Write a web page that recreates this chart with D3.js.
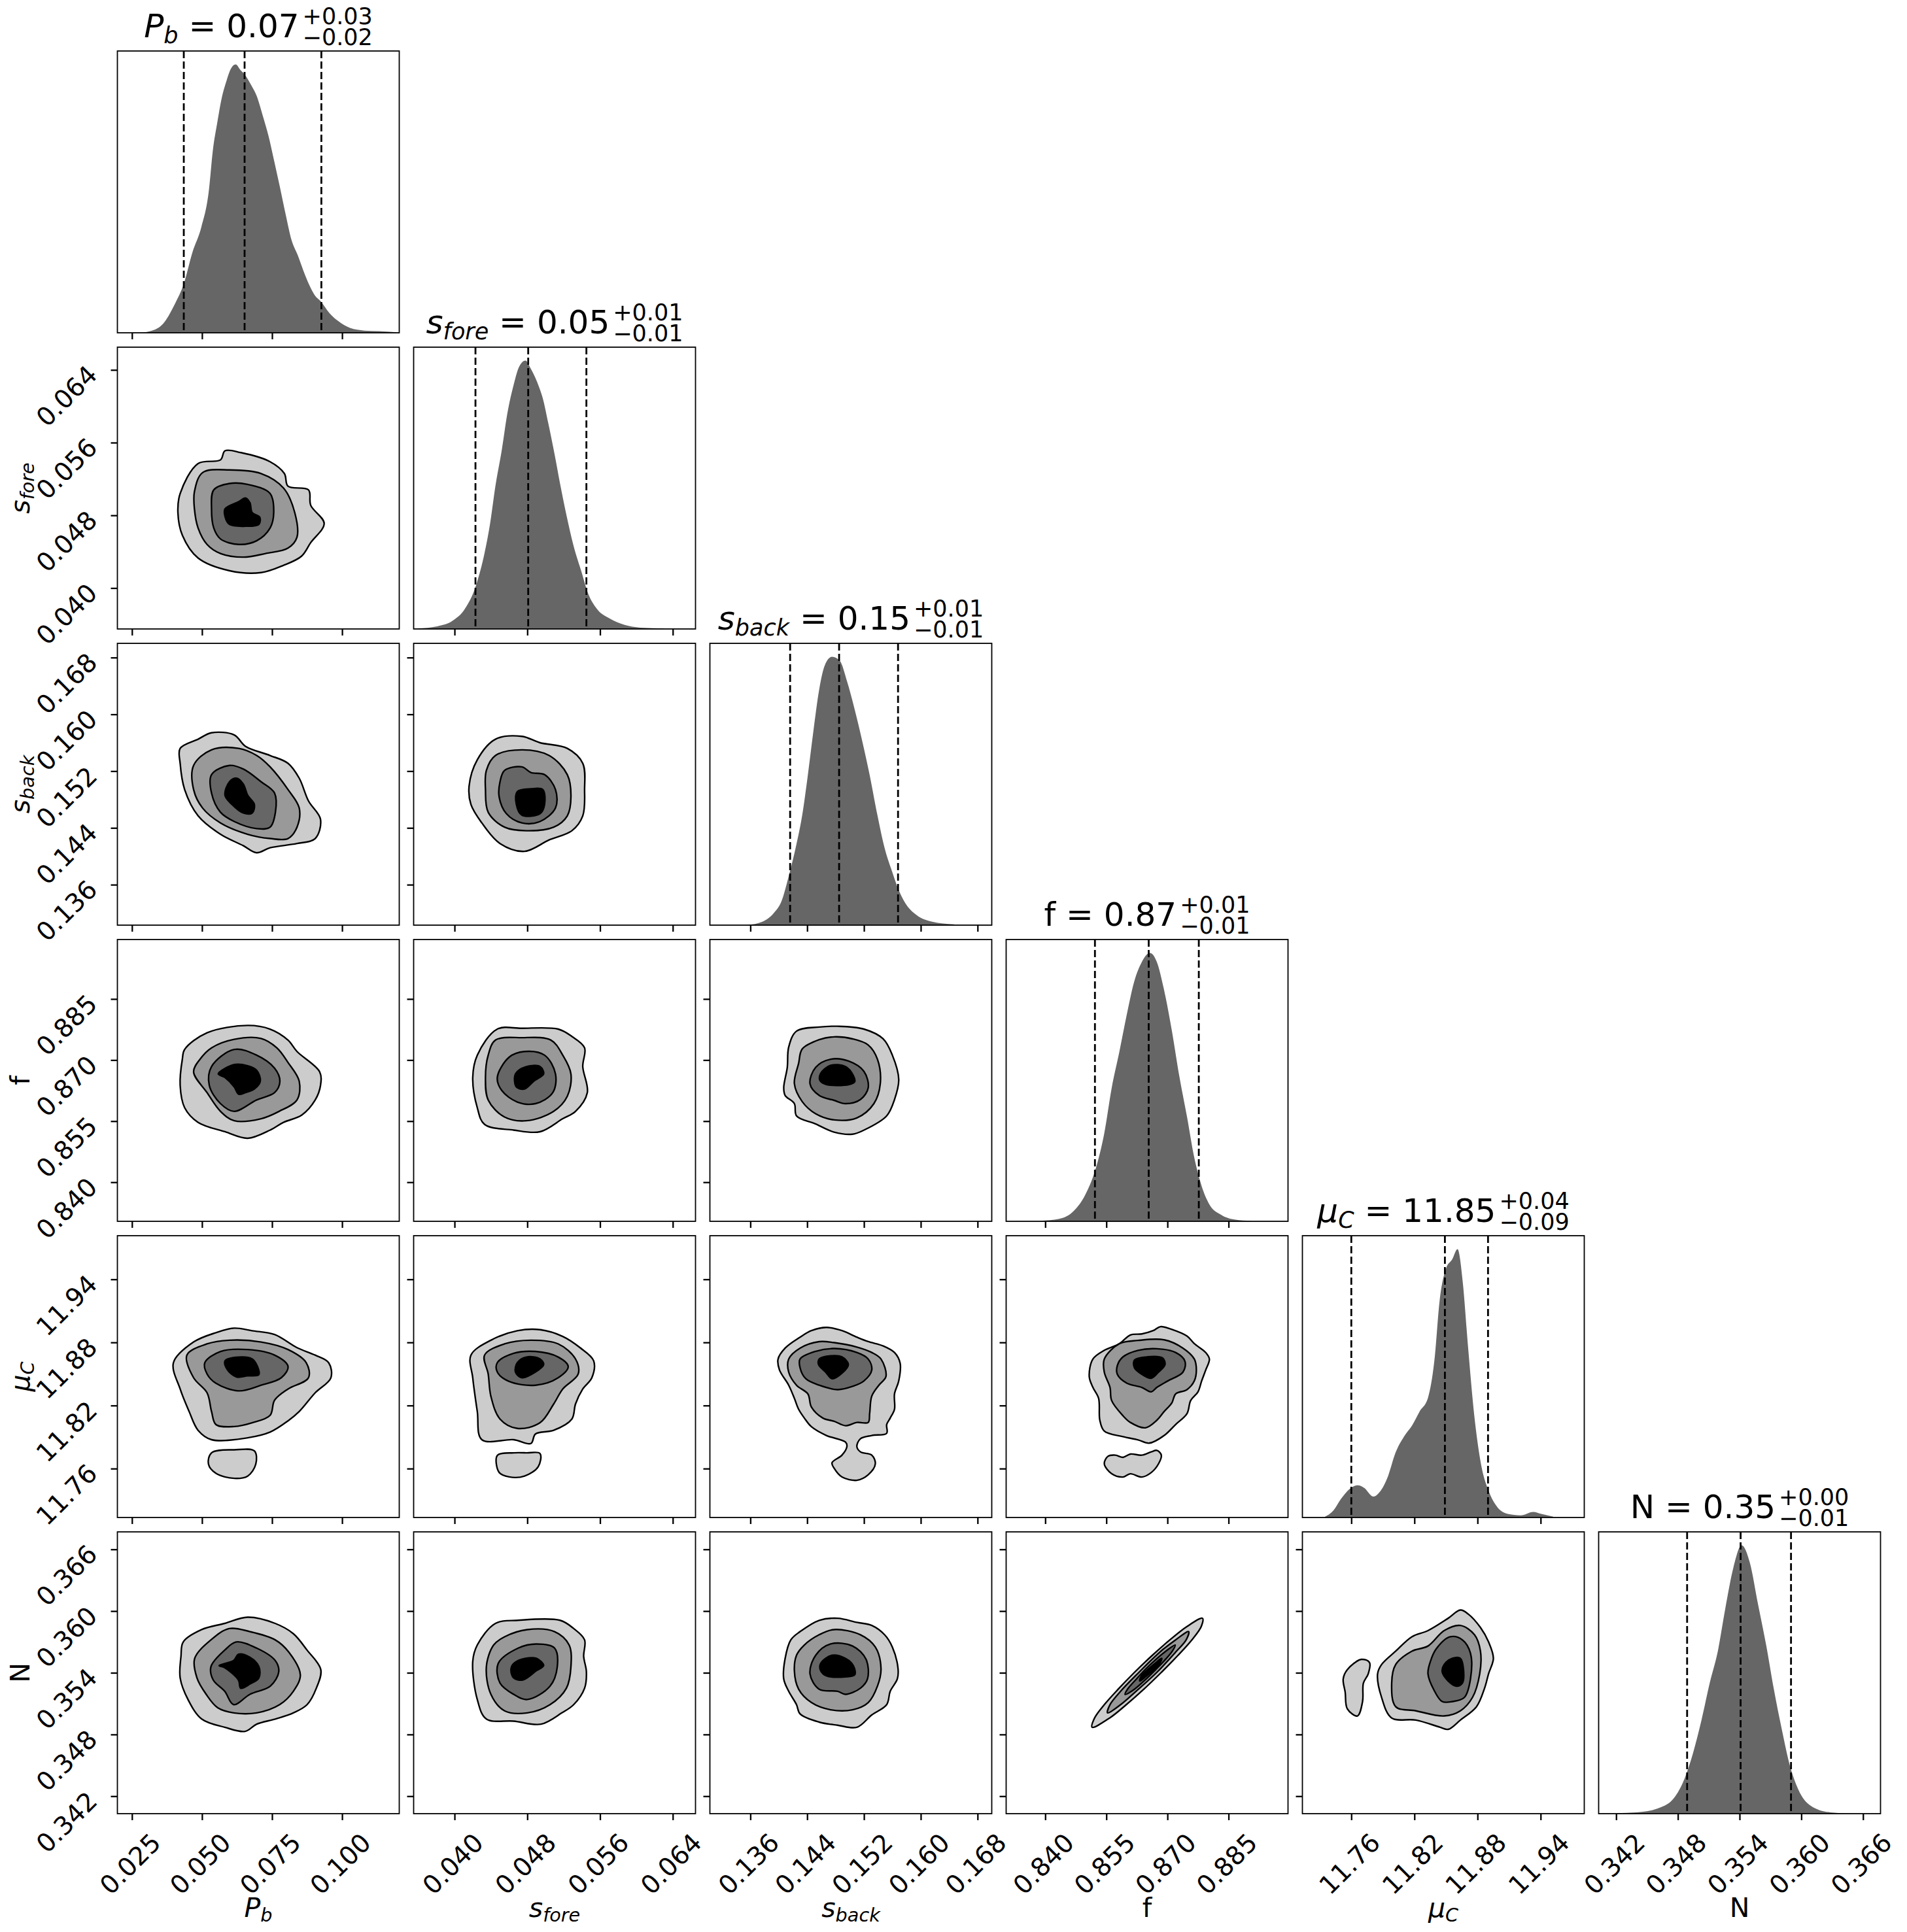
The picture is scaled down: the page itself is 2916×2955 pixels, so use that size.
<!DOCTYPE html>
<html>
<head>
<meta charset="utf-8">
<script src="https://cdn.jsdelivr.net/npm/d3@7"></script>
<style>
  body { margin: 0; background: #fff; }
  svg { display: block; }
  text { font-family: "DejaVu Sans", sans-serif; fill: #000; }
</style>
</head>
<body>
<div id="vis-container"></div>
<script>
// ---- parameters: label pieces [text, italic, subscript]
const paramLabels = [
  [["P",1,0],["b",1,1]],
  [["s",1,0],["fore",1,1]],
  [["s",1,0],["back",1,1]],
  [["f",0,0]],
  [["μ",1,0],["C",1,1]],
  [["N",0,0]]
];
const paramRanges = [[0.0198,0.1204],[0.0355,0.0665],[0.1303,0.1700],[0.8304,0.8996],[11.7135,11.9815],[0.3403,0.3677]];
const paramTicks = [
  [0.025,0.050,0.075,0.100],
  [0.040,0.048,0.056,0.064],
  [0.136,0.144,0.152,0.160,0.168],
  [0.840,0.855,0.870,0.885],
  [11.76,11.82,11.88,11.94],
  [0.342,0.348,0.354,0.360,0.366]
];
const tickFormats = [".3f",".3f",".3f",".3f",".2f",".3f"];
const quantiles = [[0.0435,0.0652,0.0926],[0.0423,0.0481,0.0545],[0.1416,0.1485,0.1568],[0.8522,0.8654,0.8777],[11.760,11.849,11.890],[0.3489,0.3541,0.3590]];
const titleValues = ["0.07","0.05","0.15","0.87","11.85","0.35"];
const titlePlus = ["+0.03","+0.01","+0.01","+0.01","+0.04","+0.00"];
const titleMinus = ["\u22120.02","\u22120.01","\u22120.01","\u22120.01","\u22120.09","\u22120.01"];

// ---- 1D marginals [value, relative density]
const histPb = [[0.0279,0],[0.0321,0.008],[0.0362,0.035],[0.0404,0.109],[0.0435,0.182],[0.0466,0.300],[0.0498,0.395],[0.0524,0.526],[0.0539,0.682],[0.0555,0.786],[0.0570,0.873],[0.0586,0.934],[0.0602,0.982],[0.0620,1.0],[0.0638,0.978],[0.0654,0.960],[0.0674,0.926],[0.0695,0.883],[0.0716,0.812],[0.0737,0.735],[0.0758,0.638],[0.0778,0.543],[0.0799,0.439],[0.0820,0.344],[0.0841,0.291],[0.0862,0.231],[0.0883,0.178],[0.0903,0.139],[0.0924,0.117],[0.0955,0.073],[0.0987,0.043],[0.1028,0.018],[0.1080,0.008],[0.1132,0.006],[0.1195,0.002]];
const histSfore = [[0.0360,0.002],[0.0381,0.010],[0.0398,0.031],[0.0411,0.073],[0.0424,0.166],[0.0433,0.283],[0.0439,0.391],[0.0445,0.534],[0.0452,0.668],[0.0458,0.802],[0.0465,0.910],[0.0471,0.977],[0.0478,1.0],[0.0484,0.969],[0.0493,0.901],[0.0497,0.860],[0.0503,0.768],[0.0510,0.651],[0.0516,0.542],[0.0523,0.425],[0.0531,0.308],[0.0540,0.208],[0.0546,0.140],[0.0557,0.073],[0.0570,0.040],[0.0587,0.015],[0.0604,0.005],[0.0630,0.002]];
const histSback = [[0.1356,0.001],[0.1377,0.013],[0.1393,0.045],[0.1404,0.090],[0.1414,0.182],[0.1425,0.303],[0.1433,0.409],[0.1441,0.560],[0.1449,0.728],[0.1457,0.879],[0.1465,0.969],[0.1475,1.0],[0.1486,0.985],[0.1496,0.910],[0.1507,0.803],[0.1518,0.681],[0.1528,0.560],[0.1539,0.409],[0.1549,0.288],[0.1560,0.197],[0.1568,0.137],[0.1578,0.083],[0.1594,0.038],[0.1616,0.013],[0.1647,0.003]];
const histF = [[0.8388,0.002],[0.8434,0.009],[0.8471,0.040],[0.8499,0.101],[0.8526,0.207],[0.8545,0.329],[0.8563,0.496],[0.8582,0.632],[0.8600,0.769],[0.8618,0.891],[0.8637,0.966],[0.8657,1.0],[0.8674,0.966],[0.8692,0.860],[0.8711,0.709],[0.8729,0.542],[0.8748,0.390],[0.8766,0.237],[0.8784,0.131],[0.8803,0.063],[0.8831,0.025],[0.8867,0.006],[0.8904,0.002]];
const histMu = [[11.735,0.003],[11.743,0.026],[11.750,0.068],[11.760,0.111],[11.766,0.120],[11.772,0.111],[11.781,0.078],[11.787,0.095],[11.795,0.155],[11.802,0.241],[11.810,0.301],[11.818,0.344],[11.825,0.395],[11.833,0.447],[11.839,0.585],[11.844,0.808],[11.850,0.927],[11.856,0.962],[11.861,1.0],[11.866,0.876],[11.871,0.636],[11.877,0.377],[11.883,0.206],[11.891,0.095],[11.898,0.043],[11.908,0.014],[11.921,0.008],[11.933,0.021],[11.940,0.014],[11.952,0.003]];
const histN = [[0.3421,0.002],[0.3440,0.005],[0.3460,0.019],[0.3476,0.057],[0.3487,0.135],[0.3495,0.229],[0.3503,0.349],[0.3511,0.487],[0.3519,0.608],[0.3526,0.762],[0.3534,0.917],[0.3542,1.0],[0.3550,0.935],[0.3558,0.779],[0.3566,0.625],[0.3573,0.470],[0.3581,0.315],[0.3589,0.178],[0.3597,0.091],[0.3609,0.030],[0.3628,0.005],[0.3652,0.0]];
const histograms = [histPb, histSfore, histSback, histF, histMu, histN];

// ---- 2D contours: 4 levels (outer -> core), each a list of polygons in data units
const contPbSfore = [
  [[[0.0582,0.0551],[0.0639,0.0549],[0.0743,0.0539],[0.0794,0.0526],[0.0807,0.0512],[0.0880,0.0508],[0.0888,0.0491],[0.0936,0.0471],[0.0888,0.0450],[0.0855,0.0435],[0.0791,0.0425],[0.0711,0.0417],[0.0599,0.0419],[0.0486,0.0433],[0.0430,0.0458],[0.0414,0.0483],[0.0422,0.0504],[0.0486,0.0537],[0.0566,0.0541]]],
  [[[0.0502,0.0527],[0.0598,0.0530],[0.0711,0.0526],[0.0791,0.0510],[0.0831,0.0483],[0.0839,0.0456],[0.0807,0.0444],[0.0727,0.0438],[0.0647,0.0434],[0.0566,0.0438],[0.0518,0.0448],[0.0486,0.0466],[0.0473,0.0487],[0.0473,0.0506]]],
  [[[0.0542,0.0508],[0.0598,0.0515],[0.0663,0.0514],[0.0743,0.0504],[0.0756,0.0483],[0.0743,0.0466],[0.0695,0.0452],[0.0631,0.0448],[0.0566,0.0454],[0.0542,0.0466],[0.0534,0.0487]]],
  [[[0.0582,0.0487],[0.0631,0.0495],[0.0655,0.0499],[0.0671,0.0494],[0.0679,0.0483],[0.0706,0.0478],[0.0703,0.0470],[0.0655,0.0468],[0.0598,0.0470],[0.0582,0.0479]]]
];
const contPbSback = [
  [[[0.0534,0.1574],[0.0615,0.1571],[0.0655,0.1555],[0.0743,0.1542],[0.0807,0.1531],[0.0847,0.1510],[0.0880,0.1478],[0.0923,0.1452],[0.0904,0.1425],[0.0839,0.1418],[0.0743,0.1412],[0.0695,0.1405],[0.0647,0.1415],[0.0566,0.1431],[0.0486,0.1457],[0.0438,0.1494],[0.0422,0.1531],[0.0422,0.1552],[0.0486,0.1565]]],
  [[[0.0470,0.1528],[0.0534,0.1550],[0.0631,0.1552],[0.0695,0.1542],[0.0743,0.1526],[0.0807,0.1494],[0.0847,0.1468],[0.0839,0.1441],[0.0807,0.1425],[0.0743,0.1425],[0.0663,0.1431],[0.0566,0.1447],[0.0502,0.1468],[0.0470,0.1494]]],
  [[[0.0534,0.1515],[0.0598,0.1528],[0.0647,0.1523],[0.0711,0.1505],[0.0759,0.1489],[0.0762,0.1462],[0.0743,0.1441],[0.0695,0.1439],[0.0615,0.1449],[0.0566,0.1462],[0.0534,0.1489]]],
  [[[0.0598,0.1505],[0.0623,0.1510],[0.0647,0.1502],[0.0663,0.1486],[0.0687,0.1473],[0.0679,0.1461],[0.0647,0.1461],[0.0607,0.1473],[0.0582,0.1486]]]
];
const contSforeSback = [
  [[[0.0445,0.1565],[0.0474,0.1569],[0.0494,0.1560],[0.0524,0.1552],[0.0541,0.1531],[0.0543,0.1494],[0.0541,0.1457],[0.0529,0.1436],[0.0504,0.1423],[0.0477,0.1407],[0.0450,0.1418],[0.0430,0.1447],[0.0418,0.1473],[0.0416,0.1499],[0.0425,0.1536]]],
  [[[0.0445,0.1542],[0.0474,0.1550],[0.0504,0.1542],[0.0524,0.1515],[0.0528,0.1484],[0.0524,0.1457],[0.0509,0.1441],[0.0479,0.1436],[0.0455,0.1441],[0.0437,0.1462],[0.0434,0.1494],[0.0435,0.1521]]],
  [[[0.0455,0.1521],[0.0474,0.1526],[0.0484,0.1518],[0.0499,0.1515],[0.0511,0.1494],[0.0511,0.1468],[0.0494,0.1449],[0.0474,0.1447],[0.0457,0.1460],[0.0449,0.1484],[0.0450,0.1505]]],
  [[[0.0469,0.1491],[0.0484,0.1495],[0.0497,0.1494],[0.0499,0.1473],[0.0494,0.1460],[0.0474,0.1458],[0.0468,0.1473]]]
];
const contPbF = [
  [[[0.0438,0.8726],[0.0518,0.8767],[0.0663,0.8785],[0.0743,0.8776],[0.0807,0.8749],[0.0839,0.8721],[0.0920,0.8671],[0.0923,0.8638],[0.0904,0.8602],[0.0856,0.8565],[0.0791,0.8547],[0.0743,0.8528],[0.0663,0.8508],[0.0582,0.8524],[0.0486,0.8547],[0.0438,0.8583],[0.0422,0.8638],[0.0430,0.8703]]],
  [[[0.0534,0.8730],[0.0615,0.8751],[0.0711,0.8753],[0.0767,0.8730],[0.0807,0.8694],[0.0847,0.8648],[0.0839,0.8602],[0.0775,0.8574],[0.0711,0.8556],[0.0615,0.8551],[0.0566,0.8574],[0.0518,0.8620],[0.0470,0.8671],[0.0494,0.8703]]],
  [[[0.0534,0.8684],[0.0615,0.8726],[0.0695,0.8712],[0.0759,0.8680],[0.0778,0.8648],[0.0759,0.8620],[0.0695,0.8602],[0.0615,0.8574],[0.0566,0.8593],[0.0526,0.8638]]],
  [[[0.0558,0.8666],[0.0615,0.8689],[0.0663,0.8686],[0.0695,0.8675],[0.0708,0.8648],[0.0687,0.8629],[0.0655,0.8620],[0.0631,0.8616],[0.0615,0.8634],[0.0582,0.8657]]]
];
const contSforeF = [
  [[[0.0447,0.8776],[0.0474,0.8778],[0.0514,0.8776],[0.0529,0.8758],[0.0543,0.8730],[0.0541,0.8684],[0.0546,0.8620],[0.0533,0.8574],[0.0519,0.8556],[0.0494,0.8524],[0.0465,0.8528],[0.0433,0.8542],[0.0425,0.8583],[0.0420,0.8657],[0.0425,0.8712]]],
  [[[0.0445,0.8749],[0.0474,0.8755],[0.0506,0.8749],[0.0519,0.8712],[0.0528,0.8666],[0.0524,0.8611],[0.0509,0.8574],[0.0479,0.8551],[0.0455,0.8560],[0.0437,0.8602],[0.0434,0.8657],[0.0437,0.8712]]],
  [[[0.0460,0.8707],[0.0477,0.8721],[0.0499,0.8712],[0.0511,0.8666],[0.0508,0.8620],[0.0489,0.8593],[0.0469,0.8597],[0.0452,0.8625],[0.0447,0.8657]]],
  [[[0.0467,0.8666],[0.0479,0.8684],[0.0494,0.8684],[0.0498,0.8666],[0.0487,0.8648],[0.0477,0.8629],[0.0468,0.8634]]]
];
const contSbackF = [
  [[[0.1425,0.8771],[0.1457,0.8781],[0.1483,0.8783],[0.1520,0.8776],[0.1547,0.8752],[0.1560,0.8712],[0.1569,0.8652],[0.1563,0.8603],[0.1552,0.8563],[0.1520,0.8528],[0.1504,0.8518],[0.1478,0.8523],[0.1452,0.8543],[0.1425,0.8563],[0.1422,0.8593],[0.1409,0.8613],[0.1407,0.8632],[0.1412,0.8682],[0.1414,0.8732]]],
  [[[0.1433,0.8727],[0.1457,0.8750],[0.1478,0.8757],[0.1504,0.8752],[0.1526,0.8737],[0.1539,0.8702],[0.1543,0.8642],[0.1534,0.8593],[0.1510,0.8558],[0.1478,0.8553],[0.1452,0.8568],[0.1433,0.8598],[0.1422,0.8642],[0.1428,0.8692]]],
  [[[0.1452,0.8682],[0.1473,0.8702],[0.1499,0.8697],[0.1520,0.8672],[0.1526,0.8632],[0.1515,0.8603],[0.1494,0.8593],[0.1478,0.8601],[0.1457,0.8613],[0.1444,0.8642]]],
  [[[0.1459,0.8667],[0.1473,0.8687],[0.1494,0.8684],[0.1505,0.8662],[0.1507,0.8647],[0.1499,0.8640],[0.1467,0.8640],[0.1458,0.8650]]]
];
const contPbMu = [
  [[[0.0398,11.8607],[0.0470,11.8804],[0.0550,11.8893],[0.0615,11.8936],[0.0679,11.8911],[0.0759,11.8875],[0.0839,11.8750],[0.0904,11.8679],[0.0952,11.8607],[0.0960,11.8464],[0.0904,11.8321],[0.0847,11.8143],[0.0807,11.8054],[0.0743,11.7947],[0.0663,11.7893],[0.0534,11.7875],[0.0486,11.7964],[0.0454,11.8143],[0.0422,11.8357]],
   [[0.0534,11.7750],[0.0615,11.7779],[0.0687,11.7768],[0.0692,11.7643],[0.0663,11.7529],[0.0615,11.7507],[0.0550,11.7554],[0.0523,11.7643]]],
  [[[0.0446,11.8679],[0.0518,11.8786],[0.0598,11.8821],[0.0711,11.8804],[0.0807,11.8732],[0.0872,11.8607],[0.0880,11.8464],[0.0807,11.8357],[0.0759,11.8250],[0.0743,11.8107],[0.0679,11.8036],[0.0615,11.8000],[0.0550,11.8018],[0.0534,11.8143],[0.0518,11.8321],[0.0470,11.8464]]],
  [[[0.0510,11.8607],[0.0566,11.8714],[0.0663,11.8732],[0.0759,11.8679],[0.0807,11.8571],[0.0783,11.8464],[0.0711,11.8393],[0.0631,11.8339],[0.0550,11.8411],[0.0518,11.8500]]],
  [[[0.0582,11.8625],[0.0631,11.8661],[0.0679,11.8643],[0.0698,11.8571],[0.0703,11.8493],[0.0663,11.8482],[0.0623,11.8471],[0.0590,11.8543]]]
];
const contSforeMu = [
  [[[0.0418,11.8679],[0.0440,11.8821],[0.0469,11.8911],[0.0494,11.8921],[0.0519,11.8857],[0.0538,11.8750],[0.0553,11.8625],[0.0551,11.8464],[0.0541,11.8357],[0.0533,11.8214],[0.0529,11.8071],[0.0509,11.7964],[0.0489,11.7929],[0.0484,11.7839],[0.0465,11.7875],[0.0430,11.7875],[0.0425,11.8143],[0.0420,11.8464]],
   [[0.0447,11.7725],[0.0465,11.7750],[0.0479,11.7750],[0.0494,11.7743],[0.0492,11.7618],[0.0477,11.7529],[0.0460,11.7521],[0.0449,11.7564]]],
  [[[0.0433,11.8679],[0.0455,11.8786],[0.0484,11.8821],[0.0514,11.8786],[0.0533,11.8643],[0.0536,11.8500],[0.0519,11.8357],[0.0509,11.8214],[0.0494,11.8036],[0.0469,11.7982],[0.0450,11.8071],[0.0440,11.8286],[0.0437,11.8500]]],
  [[[0.0447,11.8607],[0.0465,11.8696],[0.0489,11.8714],[0.0514,11.8661],[0.0525,11.8571],[0.0514,11.8464],[0.0489,11.8393],[0.0460,11.8429],[0.0447,11.8518]]],
  [[[0.0469,11.8607],[0.0479,11.8661],[0.0494,11.8643],[0.0498,11.8589],[0.0489,11.8518],[0.0474,11.8464],[0.0467,11.8518]]]
];
const contSbackMu = [
  [[[0.1467,11.8943],[0.1489,11.8912],[0.1510,11.8850],[0.1526,11.8808],[0.1547,11.8767],[0.1563,11.8704],[0.1571,11.8601],[0.1569,11.8434],[0.1563,11.8310],[0.1563,11.8164],[0.1557,11.8081],[0.1552,11.8019],[0.1552,11.7936],[0.1531,11.7915],[0.1515,11.7884],[0.1510,11.7811],[0.1515,11.7759],[0.1531,11.7728],[0.1536,11.7645],[0.1526,11.7541],[0.1510,11.7489],[0.1489,11.7520],[0.1478,11.7603],[0.1475,11.7655],[0.1489,11.7728],[0.1496,11.7811],[0.1494,11.7852],[0.1467,11.7915],[0.1446,11.7998],[0.1436,11.8081],[0.1428,11.8164],[0.1422,11.8268],[0.1414,11.8393],[0.1401,11.8538],[0.1399,11.8642],[0.1409,11.8746],[0.1430,11.8850],[0.1446,11.8912]]],
  [[[0.1414,11.8642],[0.1430,11.8746],[0.1457,11.8808],[0.1478,11.8798],[0.1510,11.8756],[0.1531,11.8704],[0.1544,11.8642],[0.1551,11.8476],[0.1541,11.8393],[0.1531,11.8289],[0.1528,11.8123],[0.1526,11.8039],[0.1510,11.8039],[0.1494,11.8008],[0.1478,11.8050],[0.1462,11.8081],[0.1446,11.8185],[0.1441,11.8310],[0.1425,11.8393],[0.1414,11.8517]]],
  [[[0.1430,11.8642],[0.1452,11.8715],[0.1478,11.8742],[0.1510,11.8704],[0.1526,11.8642],[0.1531,11.8538],[0.1520,11.8434],[0.1504,11.8382],[0.1483,11.8351],[0.1457,11.8393],[0.1438,11.8455],[0.1430,11.8559]]],
  [[[0.1457,11.8642],[0.1473,11.8673],[0.1489,11.8663],[0.1498,11.8590],[0.1489,11.8507],[0.1475,11.8455],[0.1466,11.8517],[0.1456,11.8590]]]
];
const contFMu = [
  [[[0.8665,11.8912],[0.8683,11.8950],[0.8711,11.8923],[0.8748,11.8860],[0.8766,11.8788],[0.8794,11.8704],[0.8803,11.8642],[0.8794,11.8538],[0.8784,11.8434],[0.8775,11.8330],[0.8757,11.8247],[0.8748,11.8123],[0.8720,11.8019],[0.8692,11.7915],[0.8655,11.7842],[0.8628,11.7873],[0.8591,11.7904],[0.8545,11.7956],[0.8534,11.8060],[0.8531,11.8268],[0.8517,11.8372],[0.8508,11.8476],[0.8517,11.8642],[0.8545,11.8725],[0.8582,11.8788],[0.8609,11.8871],[0.8637,11.8881]],
   [[0.8554,11.7717],[0.8572,11.7728],[0.8591,11.7707],[0.8609,11.7738],[0.8637,11.7728],[0.8660,11.7759],[0.8674,11.7773],[0.8685,11.7728],[0.8678,11.7645],[0.8660,11.7562],[0.8637,11.7520],[0.8609,11.7551],[0.8591,11.7520],[0.8563,11.7551],[0.8545,11.7645]]],
  [[[0.8582,11.8788],[0.8628,11.8819],[0.8692,11.8825],[0.8738,11.8746],[0.8766,11.8642],[0.8771,11.8538],[0.8766,11.8434],[0.8748,11.8351],[0.8720,11.8310],[0.8711,11.8226],[0.8692,11.8143],[0.8674,11.8060],[0.8646,11.7988],[0.8609,11.8039],[0.8591,11.8102],[0.8563,11.8247],[0.8559,11.8372],[0.8545,11.8517],[0.8545,11.8642]]],
  [[[0.8591,11.8663],[0.8628,11.8725],[0.8674,11.8740],[0.8720,11.8704],[0.8743,11.8621],[0.8738,11.8517],[0.8701,11.8434],[0.8674,11.8372],[0.8660,11.8330],[0.8637,11.8372],[0.8600,11.8413],[0.8577,11.8497],[0.8577,11.8580]]],
  [[[0.8619,11.8632],[0.8651,11.8663],[0.8688,11.8652],[0.8694,11.8590],[0.8678,11.8517],[0.8660,11.8459],[0.8637,11.8497],[0.8619,11.8559]]]
];
const contPbN = [
  [[[0.0433,0.3570],[0.0499,0.3582],[0.0581,0.3588],[0.0663,0.3594],[0.0761,0.3588],[0.0826,0.3578],[0.0875,0.3562],[0.0924,0.3543],[0.0908,0.3525],[0.0875,0.3509],[0.0826,0.3501],[0.0761,0.3495],[0.0695,0.3490],[0.0654,0.3483],[0.0581,0.3487],[0.0499,0.3495],[0.0450,0.3514],[0.0422,0.3535],[0.0425,0.3556]]],
  [[[0.0474,0.3554],[0.0532,0.3572],[0.0597,0.3583],[0.0671,0.3580],[0.0761,0.3572],[0.0810,0.3560],[0.0851,0.3538],[0.0826,0.3522],[0.0777,0.3509],[0.0695,0.3501],[0.0613,0.3501],[0.0556,0.3506],[0.0515,0.3519],[0.0482,0.3535]]],
  [[[0.0532,0.3546],[0.0581,0.3562],[0.0622,0.3570],[0.0695,0.3564],[0.0761,0.3552],[0.0774,0.3541],[0.0744,0.3527],[0.0671,0.3519],[0.0613,0.3509],[0.0581,0.3522],[0.0540,0.3533]]],
  [[[0.0561,0.3547],[0.0613,0.3552],[0.0630,0.3558],[0.0671,0.3555],[0.0703,0.3546],[0.0703,0.3535],[0.0671,0.3529],[0.0638,0.3525],[0.0630,0.3533],[0.0581,0.3545]]]
];
const contSforeN = [
  [[[0.0445,0.3588],[0.0470,0.3591],[0.0516,0.3591],[0.0531,0.3583],[0.0543,0.3572],[0.0542,0.3556],[0.0545,0.3541],[0.0543,0.3525],[0.0531,0.3509],[0.0518,0.3501],[0.0495,0.3490],[0.0465,0.3493],[0.0435,0.3495],[0.0425,0.3514],[0.0420,0.3551],[0.0425,0.3567]]],
  [[[0.0455,0.3575],[0.0480,0.3582],[0.0510,0.3580],[0.0526,0.3567],[0.0528,0.3546],[0.0523,0.3525],[0.0505,0.3509],[0.0480,0.3501],[0.0455,0.3503],[0.0440,0.3519],[0.0435,0.3546],[0.0443,0.3567]]],
  [[[0.0470,0.3564],[0.0490,0.3568],[0.0510,0.3564],[0.0513,0.3546],[0.0505,0.3527],[0.0480,0.3514],[0.0465,0.3519],[0.0450,0.3530],[0.0448,0.3549]]],
  [[[0.0465,0.3549],[0.0478,0.3554],[0.0490,0.3554],[0.0498,0.3547],[0.0490,0.3542],[0.0475,0.3533],[0.0465,0.3535],[0.0462,0.3543]]]
];
const contSbackN = [
  [[[0.1430,0.3580],[0.1457,0.3591],[0.1483,0.3593],[0.1510,0.3589],[0.1531,0.3586],[0.1549,0.3577],[0.1560,0.3565],[0.1568,0.3544],[0.1567,0.3534],[0.1557,0.3522],[0.1552,0.3509],[0.1531,0.3499],[0.1510,0.3487],[0.1483,0.3489],[0.1457,0.3492],[0.1430,0.3500],[0.1425,0.3509],[0.1414,0.3522],[0.1407,0.3534],[0.1409,0.3554],[0.1417,0.3572]]],
  [[[0.1436,0.3567],[0.1457,0.3577],[0.1478,0.3582],[0.1515,0.3577],[0.1536,0.3565],[0.1544,0.3544],[0.1539,0.3527],[0.1526,0.3511],[0.1504,0.3504],[0.1473,0.3504],[0.1446,0.3511],[0.1428,0.3524],[0.1422,0.3542],[0.1425,0.3557]]],
  [[[0.1452,0.3557],[0.1473,0.3568],[0.1504,0.3566],[0.1523,0.3553],[0.1525,0.3534],[0.1515,0.3525],[0.1494,0.3519],[0.1483,0.3522],[0.1457,0.3524],[0.1444,0.3539]]],
  [[[0.1459,0.3549],[0.1475,0.3557],[0.1494,0.3554],[0.1505,0.3547],[0.1507,0.3538],[0.1494,0.3536],[0.1467,0.3537],[0.1459,0.3542]]]
];
const contFN = [
  [[[0.8515,0.3487],[0.8521,0.3496],[0.8545,0.3509],[0.8579,0.3524],[0.8618,0.3540],[0.8663,0.3557],[0.8706,0.3572],[0.8748,0.3585],[0.8786,0.3593],[0.8783,0.3585],[0.8760,0.3572],[0.8726,0.3557],[0.8684,0.3540],[0.8642,0.3524],[0.8599,0.3509],[0.8558,0.3496]]],
  [[[0.8553,0.3501],[0.8559,0.3509],[0.8585,0.3522],[0.8629,0.3540],[0.8681,0.3560],[0.8720,0.3572],[0.8752,0.3580],[0.8746,0.3572],[0.8720,0.3560],[0.8673,0.3540],[0.8623,0.3522],[0.8585,0.3509]]],
  [[[0.8596,0.3519],[0.8602,0.3524],[0.8624,0.3534],[0.8645,0.3543],[0.8669,0.3552],[0.8696,0.3561],[0.8719,0.3567],[0.8712,0.3561],[0.8693,0.3552],[0.8671,0.3543],[0.8648,0.3534],[0.8619,0.3524]]],
  [[[0.8632,0.3532],[0.8636,0.3537],[0.8651,0.3543],[0.8669,0.3549],[0.8686,0.3554],[0.8681,0.3549],[0.8667,0.3543],[0.8649,0.3537]]]
];
const contMuN = [
  [[[11.8022,0.3561],[11.8176,0.3575],[11.8329,0.3581],[11.8521,0.3593],[11.8637,0.3601],[11.8713,0.3597],[11.8828,0.3584],[11.8905,0.3570],[11.8951,0.3554],[11.8905,0.3539],[11.8867,0.3525],[11.8790,0.3507],[11.8637,0.3494],[11.8521,0.3485],[11.8445,0.3487],[11.8214,0.3494],[11.7984,0.3496],[11.7888,0.3516],[11.7850,0.3539],[11.7888,0.3548]],
   [[11.7562,0.3543],[11.7696,0.3553],[11.7773,0.3550],[11.7761,0.3539],[11.7715,0.3530],[11.7707,0.3512],[11.7658,0.3498],[11.7562,0.3505],[11.7542,0.3521],[11.7523,0.3534]]],
  [[[11.8022,0.3548],[11.8176,0.3561],[11.8329,0.3566],[11.8483,0.3581],[11.8637,0.3586],[11.8771,0.3577],[11.8828,0.3561],[11.8821,0.3539],[11.8752,0.3516],[11.8637,0.3503],[11.8483,0.3498],[11.8214,0.3503],[11.8022,0.3507],[11.7984,0.3530]]],
  [[[11.8349,0.3550],[11.8406,0.3563],[11.8541,0.3575],[11.8656,0.3572],[11.8733,0.3559],[11.8733,0.3534],[11.8675,0.3516],[11.8560,0.3512],[11.8464,0.3512],[11.8387,0.3523],[11.8329,0.3539]]],
  [[[11.8483,0.3548],[11.8560,0.3554],[11.8637,0.3554],[11.8667,0.3543],[11.8656,0.3530],[11.8598,0.3527],[11.8521,0.3532],[11.8464,0.3541]]]
];
const contourPanels = [
  {row:1,col:0,levels:contPbSfore},
  {row:2,col:0,levels:contPbSback},{row:2,col:1,levels:contSforeSback},
  {row:3,col:0,levels:contPbF},{row:3,col:1,levels:contSforeF},{row:3,col:2,levels:contSbackF},
  {row:4,col:0,levels:contPbMu},{row:4,col:1,levels:contSforeMu},{row:4,col:2,levels:contSbackMu},{row:4,col:3,levels:contFMu},
  {row:5,col:0,levels:contPbN},{row:5,col:1,levels:contSforeN},{row:5,col:2,levels:contSbackN},{row:5,col:3,levels:contFN},{row:5,col:4,levels:contMuN}
];
const contourFills = ["#cccccc","#999999","#666666","#000000"];

// ---- layout
const width = 2916, height = 2955;
const cell = 431, gap = 22, left0 = 179.5, top0 = 78;
const n = paramRanges.length;
const fontTick = 39, fontLabel = 41, fontTitle = 50;

const svg = d3.select("#vis-container").append("svg")
  .attr("width", width).attr("height", height)
  .attr("viewBox", [0, 0, width, height]);

const xS = paramRanges.map(r => d3.scaleLinear().domain(r).range([0, cell]));
const yS = paramRanges.map(r => d3.scaleLinear().domain(r).range([cell, 0]));
const hY = d3.scaleLinear().domain([0, 1.05]).range([cell, 0]);

const panelX = j => left0 + j * (cell + gap);
const panelY = i => top0 + i * (cell + gap);

// writes label pieces as tspans (math-like subscripts)
function addMath(parent, parts, size) {
  const t = parent.append("text").attr("font-size", size);
  let down = false;
  parts.forEach(p => {
    const ts = t.append("tspan").text(p[0]);
    if (p[1]) ts.attr("font-style", "italic");
    if (p[2]) {
      ts.attr("font-size", size * 0.7);
      if (!down) { ts.attr("dy", size * 0.18); down = true; }
    } else if (down) { ts.attr("dy", -size * 0.18); down = false; }
  });
  return t;
}

const panels = {};
for (let i = 0; i < n; i++) {
  for (let j = 0; j <= i; j++) {
    const g = svg.append("g").attr("transform", `translate(${panelX(j)},${panelY(i)})`);
    g.append("clipPath").attr("id", `clip-${i}-${j}`)
      .append("rect").attr("width", cell).attr("height", cell);
    const body = g.append("g").attr("clip-path", `url(#clip-${i}-${j})`);
    panels[i + "_" + j] = {g, body};
  }
}

// histograms on the diagonal
histograms.forEach((hist, i) => {
  const body = panels[i + "_" + i].body;
  const area = d3.area()
    .x(d => xS[i](d[0]))
    .y0(hY(0))
    .y1(d => hY(d[1]))
    .curve(d3.curveMonotoneX);
  body.append("path").datum(hist).attr("d", area).attr("fill", "#666666");
  body.selectAll("line.q").data(quantiles[i]).join("line")
    .attr("class", "q")
    .attr("x1", d => xS[i](d)).attr("x2", d => xS[i](d))
    .attr("y1", 0).attr("y2", cell)
    .attr("stroke", "#000").attr("stroke-width", 2.8)
    .attr("stroke-dasharray", "11,5");
});

// 2D contours
contourPanels.forEach(p => {
  const body = panels[p.row + "_" + p.col].body;
  const line = d3.line()
    .x(d => xS[p.col](d[0]))
    .y(d => yS[p.row](d[1]))
    .curve(d3.curveCatmullRomClosed.alpha(0.5));
  p.levels.forEach((polys, k) => {
    body.selectAll(null).data(polys).join("path")
      .attr("d", line)
      .attr("fill", contourFills[k])
      .attr("stroke", "#000")
      .attr("stroke-width", 2.4)
      .attr("stroke-linejoin", "round");
  });
});

// axes, frames
for (let i = 0; i < n; i++) {
  for (let j = 0; j <= i; j++) {
    const g = panels[i + "_" + j].g;
    const bottom = i === n - 1;
    const gx = g.append("g").attr("transform", `translate(0,${cell})`)
      .call(d3.axisBottom(xS[j]).tickValues(paramTicks[j]).tickSize(10)
        .tickFormat(bottom ? d3.format(tickFormats[j]) : ""));
    gx.select(".domain").remove();
    gx.selectAll(".tick line").attr("stroke", "#000").attr("stroke-width", 2.3);
    gx.attr("font-family", null).attr("font-size", null);
    if (bottom) {
      gx.selectAll(".tick text")
        .attr("y", null).attr("dy", null)
        .attr("font-size", fontTick)
        .attr("text-anchor", "middle")
        .attr("dominant-baseline", "central")
        .attr("transform", "translate(-3,77) rotate(-45)");
    } else {
      gx.selectAll(".tick text").remove();
    }
    if (j < i) {
      const gy = g.append("g")
        .call(d3.axisLeft(yS[i]).tickValues(paramTicks[i]).tickSize(10)
          .tickFormat(j === 0 ? d3.format(tickFormats[i]) : ""));
      gy.select(".domain").remove();
      gy.selectAll(".tick line").attr("stroke", "#000").attr("stroke-width", 2.3);
      gy.attr("font-family", null).attr("font-size", null);
      if (j === 0) {
        gy.selectAll(".tick text")
          .attr("x", null).attr("dy", null)
          .attr("font-size", fontTick)
          .attr("text-anchor", "end")
          .attr("dominant-baseline", "central")
          .attr("transform", "translate(-38,0) rotate(-45)");
      } else {
        gy.selectAll(".tick text").remove();
      }
    }
    g.append("rect").attr("width", cell).attr("height", cell)
      .attr("fill", "none").attr("stroke", "#000").attr("stroke-width", 1.8);
  }
}

// axis labels
paramLabels.forEach((parts, j) => {
  addMath(svg, parts, fontLabel)
    .attr("text-anchor", "middle")
    .attr("transform", `translate(${panelX(j) + cell / 2},2932)`);
});
paramLabels.forEach((parts, i) => {
  if (i === 0) return;
  addMath(svg, parts, fontLabel)
    .attr("text-anchor", "middle")
    .attr("transform", `translate(45,${panelY(i) + cell / 2}) rotate(-90)`);
});

// titles over the diagonal panels: one text, with stacked +/- errors as tspans
paramLabels.forEach((parts, i) => {
  const title = addMath(svg, parts.concat([[" = " + titleValues[i], 0, 0]]), fontTitle);
  const mw = title.node().getComputedTextLength();
  const sup = title.append("tspan").attr("font-size", fontTitle * 0.7)
    .attr("x", mw + 5).attr("y", -20).text(titlePlus[i]);
  const sub = title.append("tspan").attr("font-size", fontTitle * 0.7)
    .attr("x", mw + 5).attr("y", 12).text(titleMinus[i]);
  const sw = Math.max(sup.node().getComputedTextLength(), sub.node().getComputedTextLength());
  const total = mw + 5 + sw;
  title.attr("transform", `translate(${panelX(i) + cell / 2 - total / 2},${panelY(i) - 21})`);
});
</script>
</body>
</html>
